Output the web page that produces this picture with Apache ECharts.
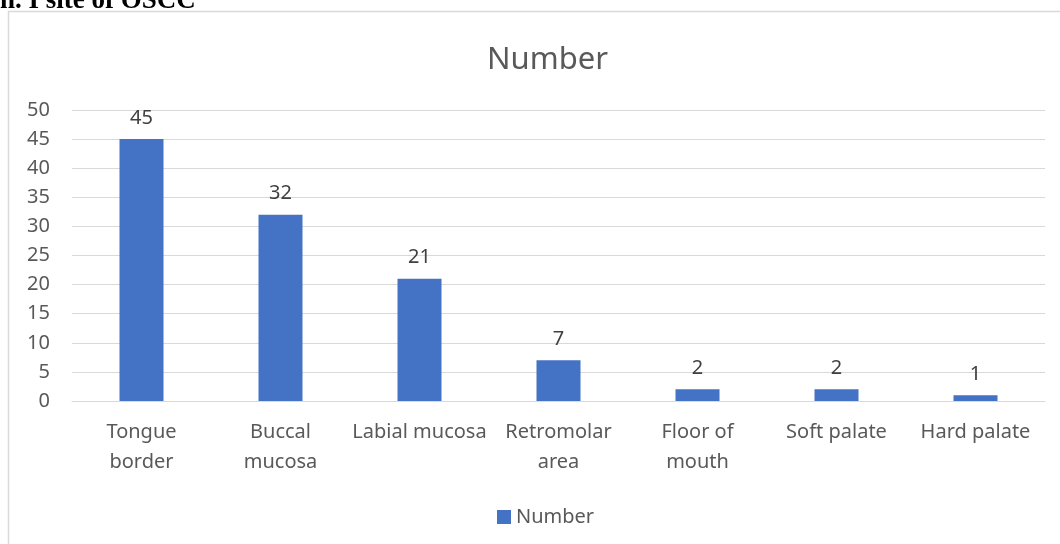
<!DOCTYPE html>
<html>
<head>
<meta charset="utf-8">
<style>
html,body{margin:0;padding:0;background:#fff;}
#c{width:1060px;height:544px;}
</style>
<script src="https://cdn.jsdelivr.net/npm/echarts@6/dist/echarts.min.js"></script>
</head>
<body>
<div id="c"></div>
<script>
const categories = ["Tongue\nborder", "Buccal\nmucosa", "Labial mucosa", "Retromolar\narea", "Floor of\nmouth", "Soft palate", "Hard palate"];
const values = [45, 32, 21, 7, 2, 2, 1];
const seriesName = "Number";
const chartTitle = "Number";
const captionText = "n. I site of OSCC";

const chart = echarts.init(document.getElementById('c'), null, {renderer: 'canvas'});
const font = '"Noto Sans", sans-serif';
chart.setOption({
  animation: false,
  backgroundColor: '#ffffff',
  title: {
    text: chartTitle,
    left: 482,
    top: 40,
    textStyle: {fontFamily: font, fontSize: 31, fontWeight: 'normal', color: '#595959'}
  },
  legend: {
    data: [seriesName],
    left: 492,
    top: 502,
    icon: 'rect',
    itemWidth: 14,
    itemHeight: 14,
    itemGap: 10,
    textStyle: {fontFamily: font, fontSize: 20, color: '#595959'}
  },
  grid: {left: 72, right: 15, top: 110, bottom: 143, containLabel: false},
  xAxis: {
    type: 'category',
    data: categories,
    axisLine: {show: true, lineStyle: {color: '#d9d9d9', width: 1}},
    axisTick: {show: false},
    axisLabel: {fontFamily: font, fontSize: 20, color: '#595959', margin: 16, lineHeight: 30, interval: 0}
  },
  yAxis: {
    type: 'value',
    min: 0, max: 50, interval: 5,
    axisLine: {show: false},
    axisTick: {show: false},
    splitLine: {lineStyle: {color: '#d9d9d9', width: 1}},
    axisLabel: {fontFamily: font, fontSize: 20, color: '#595959', margin: 22}
  },
  series: [{
    name: seriesName,
    type: 'bar',
    data: values,
    barWidth: 44,
    itemStyle: {color: '#4472C4'},
    label: {show: true, position: 'top', distance: 11, fontFamily: font, fontSize: 20, color: '#404040'}
  }],
  graphic: [
    {type: 'rect', shape: {x: 8.5, y: 11.5, width: 1200, height: 700}, style: {fill: 'none', stroke: '#d9d9d9', lineWidth: 1.5}, z: -1, silent: true},
    {type: 'text', x: 0, y: -12, style: {text: captionText, fontFamily: '"Liberation Serif", serif', fontWeight: 'bold', fontSize: 27, fill: '#000', textVerticalAlign: 'top'}}
  ]
});
</script>
</body>
</html>
